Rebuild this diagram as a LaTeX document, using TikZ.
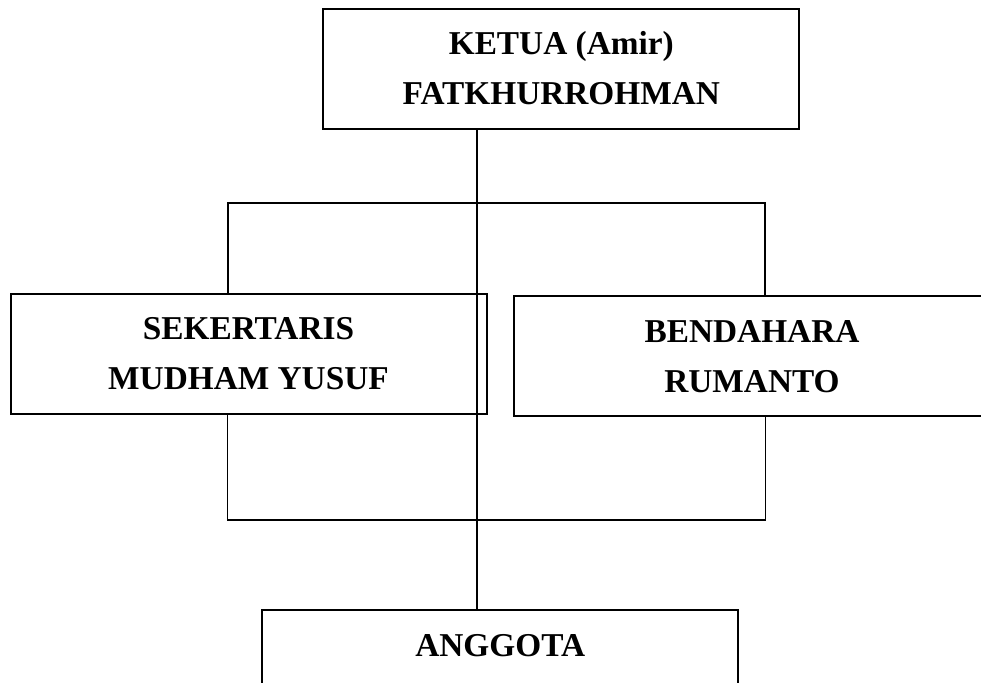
\documentclass[tikz,border=0pt]{standalone}
\usepackage{fontspec}
\setmainfont{Liberation Serif}
\usepackage{tikz}

\begin{document}
\begin{tikzpicture}[
            x=0.75pt, y=-0.75pt,
            jabatan/.style={rectangle, draw, line width=1.5pt, minimum width=357pt, minimum height=90pt, align=center, font=\fontsize{25}{37.5}\selectfont\bfseries}, % Box for each position
            garis/.style={line width=1.4pt} % Connector lines
            ]
        \useasboundingbox (0,0) rectangle (981,682);

        % Boxes
        \node[jabatan] (ketua) at (561.3,68.5) {KETUA (Amir)\\FATKHURROHMAN};
        \node[jabatan] (sekretaris) at (248.5,354) {SEKERTARIS\\MUDHAM YUSUF};
        \node[jabatan] (bendahara) at (752,356.3) {BENDAHARA\\RUMANTO};
        \node[jabatan] (anggota) at (500.2,670) {ANGGOTA\\~};

        % Points where the lines turn
        \coordinate (pusat) at (477.3,0);
        \coordinate (atas kiri) at (227.7,203);
        \coordinate (atas kanan) at (765.3,203);
        \coordinate (bawah kiri) at (227.5,520);
        \coordinate (bawah kanan) at (765.5,520);

        % Connectors
        \draw[garis] (ketua.south -| pusat) -- (anggota.north -| pusat);
        \draw[garis] (sekretaris.north -| atas kiri) -- (atas kiri) -- (atas kanan) -- (bendahara.north -| atas kanan);
        \draw[garis] (sekretaris.south -| bawah kiri) -- (bawah kiri) -- (bawah kanan) -- (bendahara.south -| bawah kanan);

    \end{tikzpicture}
\end{document}
